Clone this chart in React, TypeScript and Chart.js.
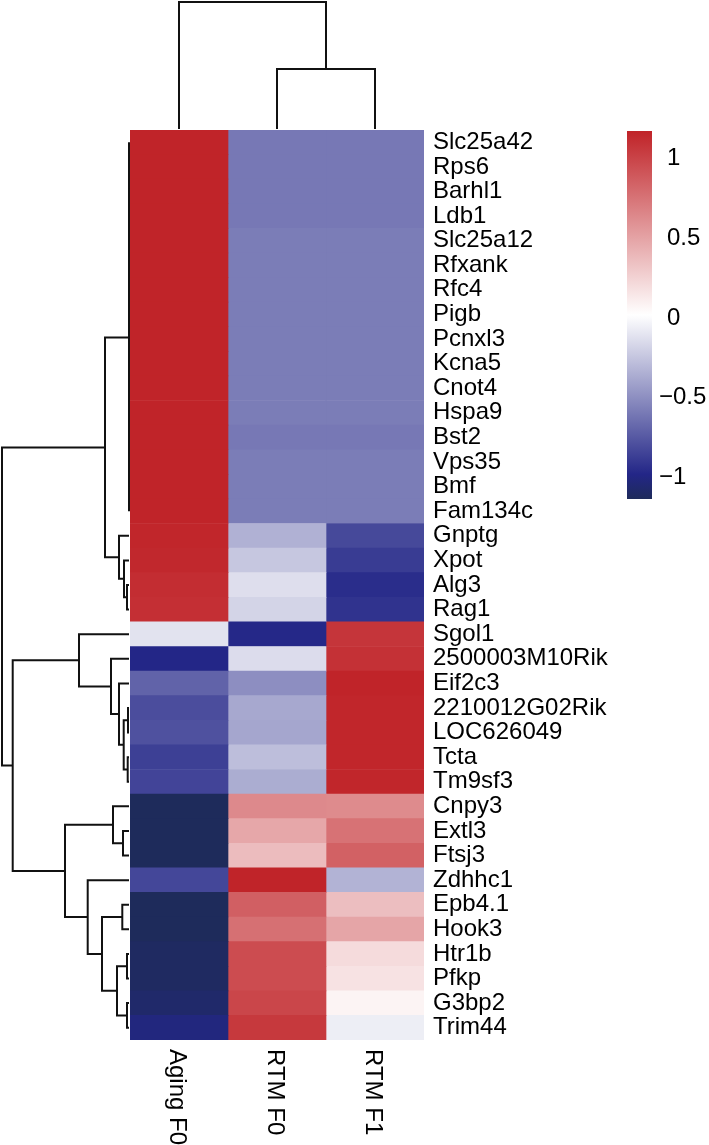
import React, { useEffect, useRef } from "react";
import { Chart, registerables } from "chart.js";

Chart.register(...registerables);

// ---------- DATA ----------
const genes = [
  "Slc25a42", "Rps6", "Barhl1", "Ldb1", "Slc25a12", "Rfxank", "Rfc4", "Pigb",
  "Pcnxl3", "Kcna5", "Cnot4", "Hspa9", "Bst2", "Vps35", "Bmf", "Fam134c",
  "Gnptg", "Xpot", "Alg3", "Rag1", "Sgol1", "2500003M10Rik", "Eif2c3",
  "2210012G02Rik", "LOC626049", "Tcta", "Tm9sf3", "Cnpy3", "Extl3", "Ftsj3",
  "Zdhhc1", "Epb4.1", "Hook3", "Htr1b", "Pfkp", "G3bp2", "Trim44",
];

const columns = ["Aging F0", "RTM F0", "RTM F1"];

const agingF0 = [
  1.15, 1.15, 1.15, 1.15, 1.15, 1.15, 1.15, 1.15,
  1.15, 1.15, 1.15, 1.15, 1.15, 1.15, 1.15, 1.15,
  1.14, 1.13, 1.1, 1.09, -0.13, -1.0, -0.72,
  -0.82, -0.8, -0.88, -0.86, -1.15, -1.15, -1.15,
  -0.85, -1.15, -1.15, -1.13, -1.13, -1.1, -1.03,
];

const rtmF0 = [
  -0.62, -0.62, -0.62, -0.62, -0.6, -0.6, -0.6, -0.6,
  -0.6, -0.6, -0.6, -0.6, -0.62, -0.6, -0.6, -0.6,
  -0.36, -0.26, -0.15, -0.2, -0.99, -0.16, -0.52,
  -0.4, -0.41, -0.3, -0.38, 0.62, 0.46, 0.35,
  1.15, 0.84, 0.75, 0.94, 0.94, 0.97, 1.04,
];

const rtmF1 = [
  -0.62, -0.62, -0.62, -0.62, -0.6, -0.6, -0.6, -0.6,
  -0.6, -0.6, -0.6, -0.6, -0.62, -0.6, -0.6, -0.6,
  -0.84, -0.9, -0.97, -0.94, 1.06, 1.08, 1.15,
  1.14, 1.14, 1.14, 1.14, 0.61, 0.74, 0.83,
  -0.35, 0.34, 0.47, 0.19, 0.15, 0.06, -0.08,
];

const legendTicks = [1, 0.5, 0, -0.5, -1];
const scaleMin = -1.1547;
const scaleMax = 1.1547;

// dendrograms: [mergeHeight, left, right], leaves are row / column indices
const rowTree: any = [127,
  [24,
    [0,
      [0, [0, 0, [0, 1, 2]], 3],
      [0, [0, [0, [0, [0, [0, [0, [0, [0, [0, [0, 4, 5], 6], 7], 8], 9], 10], 11], 12], 13], 14], 15]],
    [10, 16, [5, 17, [2, 18, 19]]]],
  [116.3,
    [50, 20, [18, 21, [10, 22, [5.3, [1, 23, 24], [1.3, 25, 26]]]]],
    [64,
      [16, 27, [6, 28, 29]],
      [41.3, 30, [27, [6.7, 31, 32], [12, [2, 33, 34], [2, 35, 36]]]]]]];

const colTree: any = [127, 0, [60, 1, 2]];

// ---------- STYLE ----------
const FONT = "'Liberation Sans', Arial, Helvetica, sans-serif";
const colorStops: [number, number[]][] = [
  [-1.1547, [30, 43, 90]],
  [-1.0, [35, 38, 135]],
  [0, [255, 255, 255]],
  [1.1547, [192, 35, 40]],
];

function colorFor(v: number): string {
  const s = colorStops;
  if (v <= s[0][0]) return `rgb(${s[0][1].join(",")})`;
  for (let i = 1; i < s.length; i++) {
    if (v <= s[i][0]) {
      const [v0, c0] = s[i - 1];
      const [v1, c1] = s[i];
      const t = (v - v0) / (v1 - v0);
      const c = c0.map((a, k) => Math.round(a + (c1[k] - a) * t));
      return `rgb(${c.join(",")})`;
    }
  }
  return `rgb(${s[s.length - 1][1].join(",")})`;
}

const LEGEND = { x: 627, w: 25, top: 131, bottom: 499, labelX: 667 };

const decoPlugin = {
  id: "deco",
  afterDraw(chart: any) {
    const ctx = chart.ctx as CanvasRenderingContext2D;
    const { left, top, bottom } = chart.chartArea;
    const ys = chart.scales.y;
    const xs = chart.scales.x;
    ctx.save();
    ctx.strokeStyle = "#111";
    ctx.lineWidth = 2;
    ctx.lineCap = "butt";
    ctx.lineJoin = "miter";

    // row dendrogram
    const rowMax = rowTree[0];
    const hx = (h: number) => left - 1 - (h / rowMax) * (left - 3);
    const drawRow = (node: any): { pos: number; h: number } => {
      if (typeof node === "number") return { pos: ys.getPixelForValue(node), h: 0 };
      const [h, a, b] = node;
      const A = drawRow(a);
      const B = drawRow(b);
      const x = hx(h);
      ctx.beginPath();
      ctx.moveTo(hx(A.h), A.pos);
      ctx.lineTo(x, A.pos);
      ctx.lineTo(x, B.pos);
      ctx.lineTo(hx(B.h), B.pos);
      ctx.stroke();
      return { pos: (A.pos + B.pos) / 2, h };
    };
    drawRow(rowTree);

    // column dendrogram
    const colMax = colTree[0];
    const hy = (h: number) => top - 1 - (h / colMax) * (top - 3);
    const drawCol = (node: any): { pos: number; h: number } => {
      if (typeof node === "number") return { pos: xs.getPixelForValue(node + 0.5), h: 0 };
      const [h, a, b] = node;
      const A = drawCol(a);
      const B = drawCol(b);
      const y = hy(h);
      ctx.beginPath();
      ctx.moveTo(A.pos, hy(A.h));
      ctx.lineTo(A.pos, y);
      ctx.lineTo(B.pos, y);
      ctx.lineTo(B.pos, hy(B.h));
      ctx.stroke();
      return { pos: (A.pos + B.pos) / 2, h };
    };
    drawCol(colTree);

    // column labels (rotated, reading top to bottom)
    ctx.fillStyle = "#000";
    ctx.font = `24px ${FONT}`;
    ctx.textAlign = "left";
    ctx.textBaseline = "middle";
    columns.forEach((name, i) => {
      const x = xs.getPixelForValue(i + 0.5);
      ctx.save();
      ctx.translate(x - 2, bottom + 9);
      ctx.rotate(Math.PI / 2);
      ctx.fillText(name, 0, 0);
      ctx.restore();
    });

    // color legend
    const grad = ctx.createLinearGradient(0, LEGEND.bottom, 0, LEGEND.top);
    colorStops.forEach(([v, c]) => {
      grad.addColorStop((v - scaleMin) / (scaleMax - scaleMin), `rgb(${c.join(",")})`);
    });
    ctx.fillStyle = grad;
    ctx.fillRect(LEGEND.x, LEGEND.top, LEGEND.w, LEGEND.bottom - LEGEND.top);
    ctx.fillStyle = "#000";
    ctx.font = `24px ${FONT}`;
    ctx.textBaseline = "middle";
    legendTicks.forEach((v) => {
      const y = LEGEND.bottom - ((v - scaleMin) / (scaleMax - scaleMin)) * (LEGEND.bottom - LEGEND.top);
      const label = v < 0 ? "\u2212" + String(Math.abs(v)) : String(v);
      ctx.fillText(label, v < 0 ? LEGEND.labelX - 8 : LEGEND.labelX, y + 3);
    });
    ctx.restore();
  },
};

export default function App() {
  const ref = useRef<HTMLCanvasElement | null>(null);
  useEffect(() => {
    if (!ref.current) return;
    const series = [agingF0, rtmF0, rtmF1];
    const chart = new Chart(ref.current, {
      type: "bar",
      data: {
        labels: genes,
        datasets: series.map((vals, c) => ({
          label: columns[c],
          data: vals.map(() => [c, c + 1]) as any,
          backgroundColor: vals.map(colorFor),
          borderWidth: 0,
          barPercentage: 1,
          categoryPercentage: 1,
          grouped: false,
        })),
      },
      options: {
        indexAxis: "y",
        animation: false,
        responsive: false,
        devicePixelRatio: 1,
        events: [],
        layout: { padding: { left: 130, top: 130, right: 0, bottom: 105 } },
        plugins: { legend: { display: false }, tooltip: { enabled: false } },
        scales: {
          x: { type: "linear", min: 0, max: 3, display: false },
          y: {
            type: "category",
            position: "right",
            offset: true,
            grid: { display: false, drawTicks: false },
            border: { display: false },
            ticks: {
              autoSkip: false,
              padding: 9,
              color: "#000",
              font: { family: FONT, size: 24 },
            },
            afterFit: (s: any) => {
              s.width = 285;
            },
          },
        },
      } as any,
      plugins: [decoPlugin],
    });
    return () => chart.destroy();
  }, []);
  return (
    <div style={{ position: "absolute", left: 0, top: 0, width: 709, height: 1145, background: "#fff" }}>
      <canvas ref={ref} width={709} height={1145} style={{ width: 709, height: 1145, display: "block" }} />
    </div>
  );
}
